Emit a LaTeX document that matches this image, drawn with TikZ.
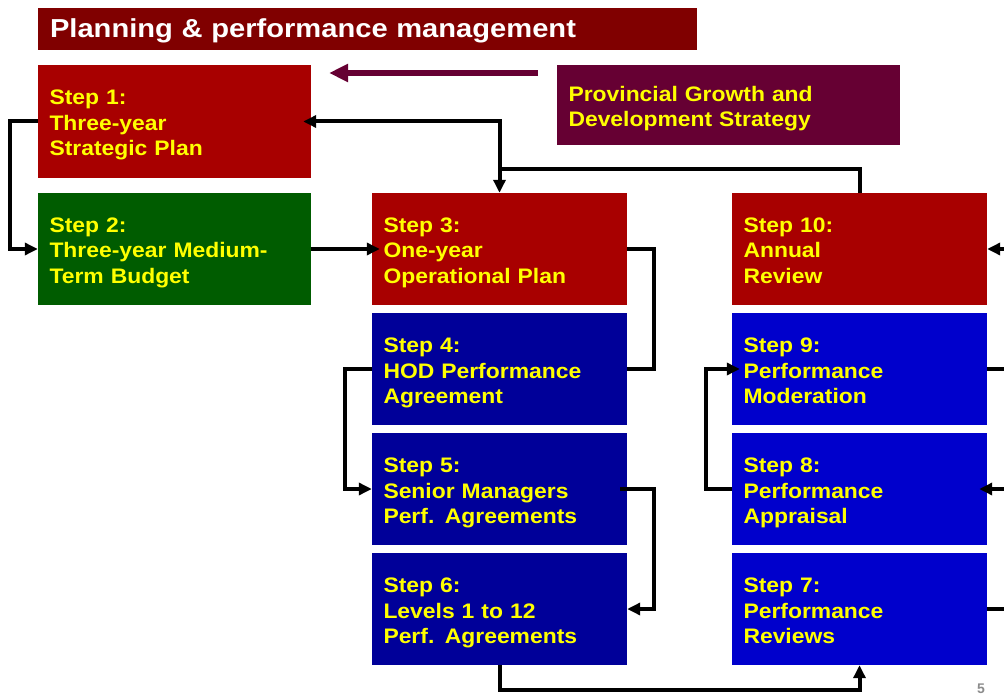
\documentclass[tikz,border=0pt]{standalone}
\usepackage{fontspec}
\setmainfont{Liberation Sans}
\newfontfamily\boxfont{Liberation Sans}[FakeStretch=1.09]
\newfontfamily\headfont{Liberation Sans}[FakeStretch=1.12]
\usetikzlibrary{arrows.meta}

\definecolor{headred}{HTML}{800000}
\definecolor{stepred}{HTML}{A80000}
\definecolor{stepgreen}{HTML}{005C00}
\definecolor{navyblue}{HTML}{000099}
\definecolor{brightblue}{HTML}{0000CC}
\definecolor{plum}{HTML}{660033}
\definecolor{steptext}{HTML}{FFFF00}
\definecolor{pagegray}{HTML}{8C8C8C}

\tikzset{
  stepbox/.style={rectangle, inner xsep=11.5pt, inner ysep=0pt, align=left,
    minimum height=112pt, text=steptext,
    font={\boxfont\bfseries\fontsize{21}{25.5}\selectfont},
    % fixed first-line height and last-line depth keep every block on the same baselines
    execute at begin node={\rule{0pt}{23pt}},
    execute at end node={\rule[-5pt]{0pt}{5pt}}},
  widebox/.style={stepbox, text width=250pt, minimum width=273pt},
  narrowbox/.style={stepbox, text width=232pt, minimum width=255pt},
  conn/.style={line width=4pt, black},
  tip/.style={-{Triangle[length=13pt,width=12pt]}},
  overlap/.style={shorten >=-8pt},
}

\begin{document}
\begin{tikzpicture}[x=1pt, y=-1pt]
\useasboundingbox (0,0) rectangle (1004,695);

% heading bar
\node[rectangle, fill=headred, minimum width=659pt, minimum height=42pt,
  inner xsep=12pt, inner ysep=0pt, text width=635pt, align=left, text=white,
  text height=21pt, text depth=3pt,
  font={\headfont\bfseries\fontsize{26}{30}\selectfont}]
  (title) at (367.5,29) {Planning \& performance management};

% step boxes
\node[widebox, fill=stepred, minimum height=113pt] (s1) at (174.5,121.5) {Step 1:\\Three-year\\Strategic Plan};
\node[widebox, fill=stepgreen] (s2) at (174.5,249) {Step 2:\\Three-year Medium-\\Term Budget};
\node[narrowbox, fill=stepred] (s3) at (499.5,249) {Step 3:\\One-year\\Operational Plan};
\node[narrowbox, fill=navyblue] (s4) at (499.5,369) {Step 4:\\HOD Performance\\Agreement};
\node[narrowbox, fill=navyblue] (s5) at (499.5,489) {Step 5:\\Senior Managers\\Perf. Agreements};
\node[narrowbox, fill=navyblue] (s6) at (499.5,609) {Step 6:\\Levels 1 to 12\\Perf. Agreements};
\node[narrowbox, fill=stepred] (s10) at (859.5,249) {Step 10:\\Annual\\Review};
\node[narrowbox, fill=brightblue] (s9) at (859.5,369) {Step 9:\\Performance\\Moderation};
\node[narrowbox, fill=brightblue] (s8) at (859.5,489) {Step 8:\\Performance\\Appraisal};
\node[narrowbox, fill=brightblue] (s7) at (859.5,609) {Step 7:\\Performance\\Reviews};

% provincial strategy box and its arrow
\node[stepbox, fill=plum, minimum width=343pt, text width=320pt, minimum height=80pt]
  (pgds) at (728.5,105) {Provincial Growth and\\Development Strategy};
\coordinate (pgdsfrom) at (538,73);
\coordinate (pgdsto) at (329,73);
\draw[line width=5.5pt, plum, -{Triangle[length=19pt,width=17pt]}] (pgdsfrom) -- (pgdsto);

% connectors
\coordinate (join) at (499.5,169);
\draw[conn] (s10.north) |- (join);
\draw[conn, tip] (join) -- (s3.north);
\draw[conn, tip, overlap] (join) |- (s1.east);
\draw[conn, tip] (s1.west) -- ++(-28,0) |- (s2.west);
\draw[conn, tip, overlap] (s2.east) -- (s3.west);
\draw[conn] (s3.east) -- ++(27,0) |- (s4.east);
\draw[conn, tip] (s4.west) -- ++(-27,0) |- (s5.west);
\draw[conn, tip] ([xshift=-7pt]s5.east) -- ++(34,0) |- (s6.east);
\draw[conn, tip] (s6.south) -- ++(0,25) -| (s7.south);
\draw[conn, tip, overlap] (s8.west) -- ++(-26,0) |- (s9.west);

% lines leaving the right edge
\coordinate (r10) at (1004,249);
\coordinate (r9) at (1004,369);
\coordinate (r8) at (1004,489);
\coordinate (r7) at (1004,609);
\draw[conn, tip] (r10) -- (s10.east);
\draw[conn] (s9.east) -- (r9);
\draw[conn, tip, overlap] (r8) -- (s8.east);
\draw[conn] (s7.east) -- (r7);

% page number
\node[text=pagegray, font={\bfseries\fontsize{14}{16}\selectfont}, inner sep=0pt] (pagenum) at (981,689) {5};
\end{tikzpicture}
\end{document}
